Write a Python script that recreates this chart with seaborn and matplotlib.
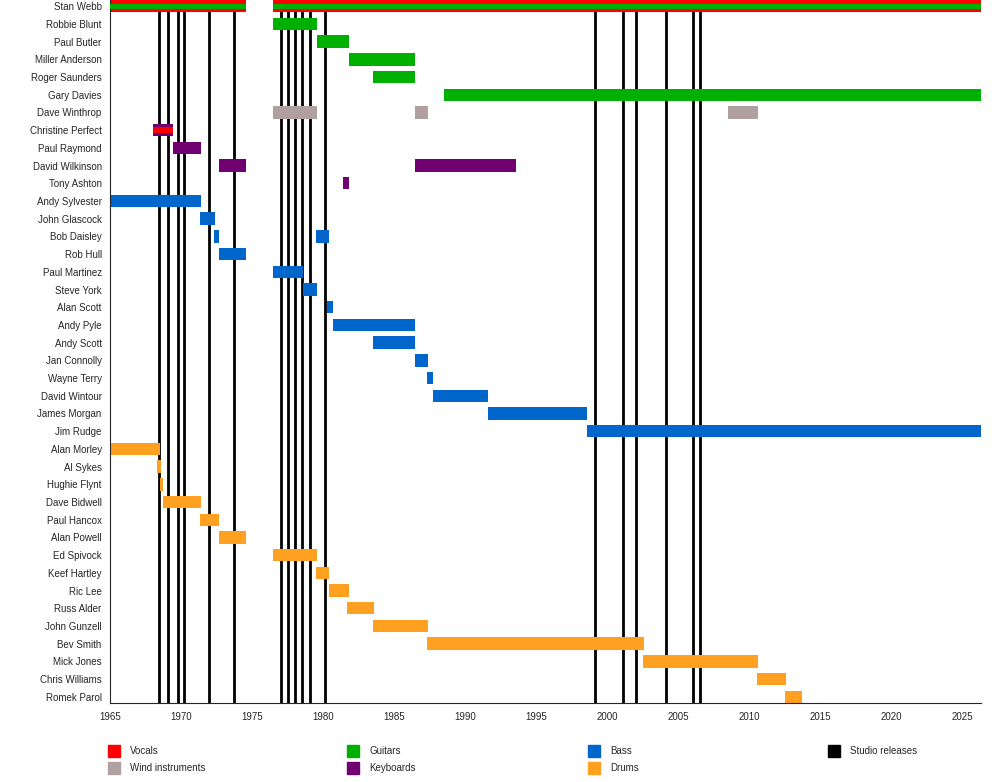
import matplotlib
matplotlib.use("Agg")
import matplotlib.pyplot as plt
from matplotlib.patches import Rectangle
import seaborn as sns
import pandas as pd

END = 2026.3

members = [
    "Stan Webb", "Robbie Blunt", "Paul Butler", "Miller Anderson", "Roger Saunders",
    "Gary Davies", "Dave Winthrop", "Christine Perfect", "Paul Raymond", "David Wilkinson",
    "Tony Ashton", "Andy Sylvester", "John Glascock", "Bob Daisley", "Rob Hull",
    "Paul Martinez", "Steve York", "Alan Scott", "Andy Pyle", "Andy Scott",
    "Jan Connolly", "Wayne Terry", "David Wintour", "James Morgan", "Jim Rudge",
    "Alan Morley", "Al Sykes", "Hughie Flynt", "Dave Bidwell", "Paul Hancox",
    "Alan Powell", "Ed Spivock", "Keef Hartley", "Ric Lee", "Russ Alder",
    "John Gunzell", "Bev Smith", "Mick Jones", "Chris Williams", "Romek Parol",
]

# (member, start, end, main role, stripe role or None)
spans = [
    ("Stan Webb", 1965.0, 1974.6, "Vocals", "Guitars"),
    ("Stan Webb", 1976.5, END, "Vocals", "Guitars"),
    ("Robbie Blunt", 1976.5, 1979.6, "Guitars", None),
    ("Paul Butler", 1979.6, 1981.8, "Guitars", None),
    ("Miller Anderson", 1981.8, 1986.5, "Guitars", None),
    ("Roger Saunders", 1983.5, 1986.5, "Guitars", None),
    ("Gary Davies", 1988.5, END, "Guitars", None),
    ("Dave Winthrop", 1976.5, 1979.6, "Wind instruments", None),
    ("Dave Winthrop", 1986.5, 1987.4, "Wind instruments", None),
    ("Dave Winthrop", 2008.5, 2010.6, "Wind instruments", None),
    ("Christine Perfect", 1968.0, 1969.4, "Keyboards", "Vocals"),
    ("Paul Raymond", 1969.4, 1971.4, "Keyboards", None),
    ("David Wilkinson", 1972.7, 1974.6, "Keyboards", None),
    ("David Wilkinson", 1986.5, 1993.6, "Keyboards", None),
    ("Tony Ashton", 1981.4, 1981.8, "Keyboards", None),
    ("Andy Sylvester", 1965.0, 1971.4, "Bass", None),
    ("John Glascock", 1971.3, 1972.4, "Bass", None),
    ("Bob Daisley", 1972.3, 1972.7, "Bass", None),
    ("Bob Daisley", 1979.5, 1980.4, "Bass", None),
    ("Rob Hull", 1972.7, 1974.6, "Bass", None),
    ("Paul Martinez", 1976.5, 1978.6, "Bass", None),
    ("Steve York", 1978.6, 1979.6, "Bass", None),
    ("Alan Scott", 1980.3, 1980.7, "Bass", None),
    ("Andy Pyle", 1980.7, 1986.5, "Bass", None),
    ("Andy Scott", 1983.5, 1986.5, "Bass", None),
    ("Jan Connolly", 1986.5, 1987.4, "Bass", None),
    ("Wayne Terry", 1987.3, 1987.7, "Bass", None),
    ("David Wintour", 1987.7, 1991.6, "Bass", None),
    ("James Morgan", 1991.6, 1998.6, "Bass", None),
    ("Jim Rudge", 1998.6, END, "Bass", None),
    ("Alan Morley", 1965.0, 1968.5, "Drums", None),
    ("Al Sykes", 1968.3, 1968.6, "Drums", None),
    ("Hughie Flynt", 1968.5, 1968.75, "Drums", None),
    ("Dave Bidwell", 1968.7, 1971.4, "Drums", None),
    ("Paul Hancox", 1971.3, 1972.7, "Drums", None),
    ("Alan Powell", 1972.7, 1974.6, "Drums", None),
    ("Ed Spivock", 1976.5, 1979.6, "Drums", None),
    ("Keef Hartley", 1979.5, 1980.4, "Drums", None),
    ("Ric Lee", 1980.4, 1981.8, "Drums", None),
    ("Russ Alder", 1981.7, 1983.6, "Drums", None),
    ("John Gunzell", 1983.5, 1987.4, "Drums", None),
    ("Bev Smith", 1987.3, 2002.6, "Drums", None),
    ("Mick Jones", 2002.5, 2010.6, "Drums", None),
    ("Chris Williams", 2010.5, 2012.6, "Drums", None),
    ("Romek Parol", 2012.5, 2013.7, "Drums", None),
]

releases = [1968.45, 1969.1, 1969.8, 1970.2, 1972.0, 1973.7, 1977.0, 1977.5, 1978.0,
            1978.5, 1979.1, 1980.1, 1999.1, 2001.1, 2002.0, 2004.1, 2006.0, 2006.5]

colors = {
    "Vocals": "#ff0000",
    "Wind instruments": "#b0a0a0",
    "Guitars": "#00b000",
    "Keyboards": "#700070",
    "Bass": "#0066cc",
    "Drums": "#ffa020",
    "Studio releases": "#000000",
}

sns.set_style("white")
plt.rcParams["font.family"] = ["Liberation Sans", "DejaVu Sans"]

df = pd.DataFrame(spans, columns=["member", "start", "end", "role", "stripe"])
df["row"] = df["member"].map({m: i for i, m in enumerate(members)})

fig = plt.figure(figsize=(10, 7.82), dpi=100)
ax = fig.add_axes([0.11, 1 - 703 / 782, 0.871, 703 / 782])

for x in releases:
    ax.axvline(x, color="black", lw=2.0, zorder=1)

for _, r in df.iterrows():
    ax.barh(r["row"], r["end"] - r["start"], left=r["start"], height=0.7,
            color=colors[r["role"]], linewidth=0, zorder=2)
    if r["stripe"]:
        ax.barh(r["row"], r["end"] - r["start"], left=r["start"], height=0.3,
                color=colors[r["stripe"]], linewidth=0, zorder=3)

ax.set_xlim(1965, END)
ax.set_ylim(39.35, -0.35)
ax.set_yticks(range(len(members)))
ax.set_yticklabels(members, fontsize=7)
ax.set_xticks(range(1965, 2026, 5))
ax.tick_params(axis="x", labelsize=7, length=3)
ax.tick_params(axis="y", length=0, pad=6)
for s in ["top", "right"]:
    ax.spines[s].set_visible(False)
ax.spines["left"].set_linewidth(0.8)
ax.spines["bottom"].set_linewidth(0.8)

legend_items = [("Vocals", 108, 751), ("Guitars", 347, 751), ("Bass", 588, 751),
                ("Studio releases", 828, 751), ("Wind instruments", 108, 768),
                ("Keyboards", 347, 768), ("Drums", 588, 768)]
for name, px, py in legend_items:
    fig.patches.append(Rectangle((px / 1000, 1 - (py + 6) / 782), 12 / 1000, 12 / 782,
                                 transform=fig.transFigure, color=colors[name]))
    fig.text((px + 22) / 1000, 1 - py / 782, name, fontsize=7, va="center")

fig.savefig("out.png", dpi=100)
